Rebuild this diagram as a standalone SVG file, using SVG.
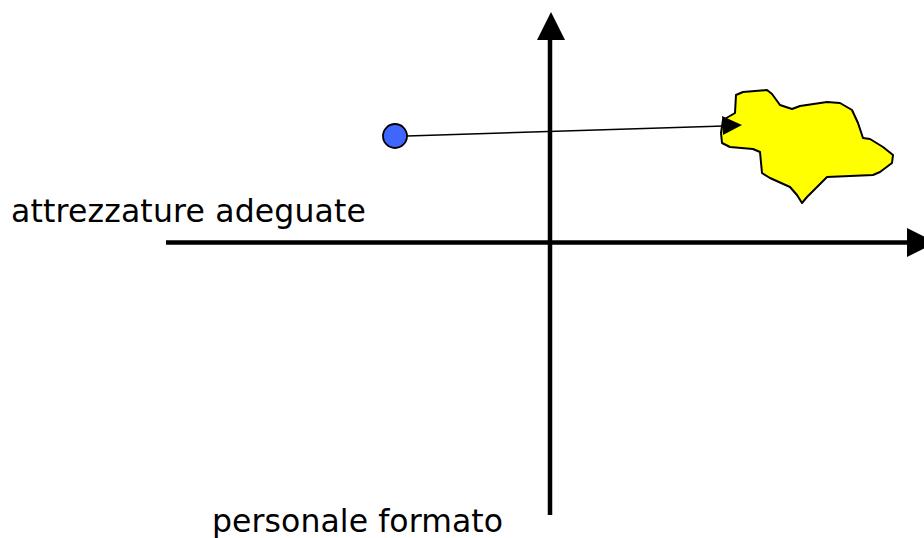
<svg xmlns="http://www.w3.org/2000/svg" width="924" height="538" viewBox="0 0 924 538">
<style>
.lbl{font-family:"DejaVu Sans",Verdana,sans-serif;font-size:31.5px;fill:#000}
.axis{stroke:#000;stroke-width:4.5;fill:none}
</style>
<rect width="924" height="538" fill="#fff"/>
<g id="connectors">
<line class="axis" x1="550" y1="515" x2="550" y2="38"/>
<polygon points="551,12 537,40 565,40" fill="#000"/>
<line class="axis" x1="166" y1="242.5" x2="909" y2="242.5"/>
<polygon points="936,242.5 907,228 907,257" fill="#000"/>
<line x1="407" y1="136" x2="724" y2="126" stroke="#000" stroke-width="1.5"/>
</g>
<g id="blob">
<path d="M736,95 L743,92 L767,90 L772,94 L780,105 L792,109 L800,106 L827,102 L840,103 L852,110 L858,123 L863,138 L870,139 L883,147 L893,155 L892,163 L880,172 L873,175 L827,177 L817,187 L807,197 L802,203 L797,195 L790,187 L770,178 L762,173 L760,152 L753,149 L730,147 L722,143 L721,133 L723,120 L735,113 Z" fill="#ffff00" stroke="#000" stroke-width="2" stroke-linejoin="round"/>
</g>
<g id="arrowhead-blob">
<polygon points="742,125 722,116 723,135" fill="#000"/>
</g>
<g id="point">
<circle cx="395" cy="136" r="12" fill="#3f66ff" stroke="#000" stroke-width="1.8"/>
</g>
<g id="label-x">
<text class="lbl" x="11" y="222" textLength="355" lengthAdjust="spacing">attrezzature adeguate</text>
</g>
<g id="label-y">
<text class="lbl" x="212" y="532" textLength="291" lengthAdjust="spacing">personale formato</text>
</g>
</svg>
